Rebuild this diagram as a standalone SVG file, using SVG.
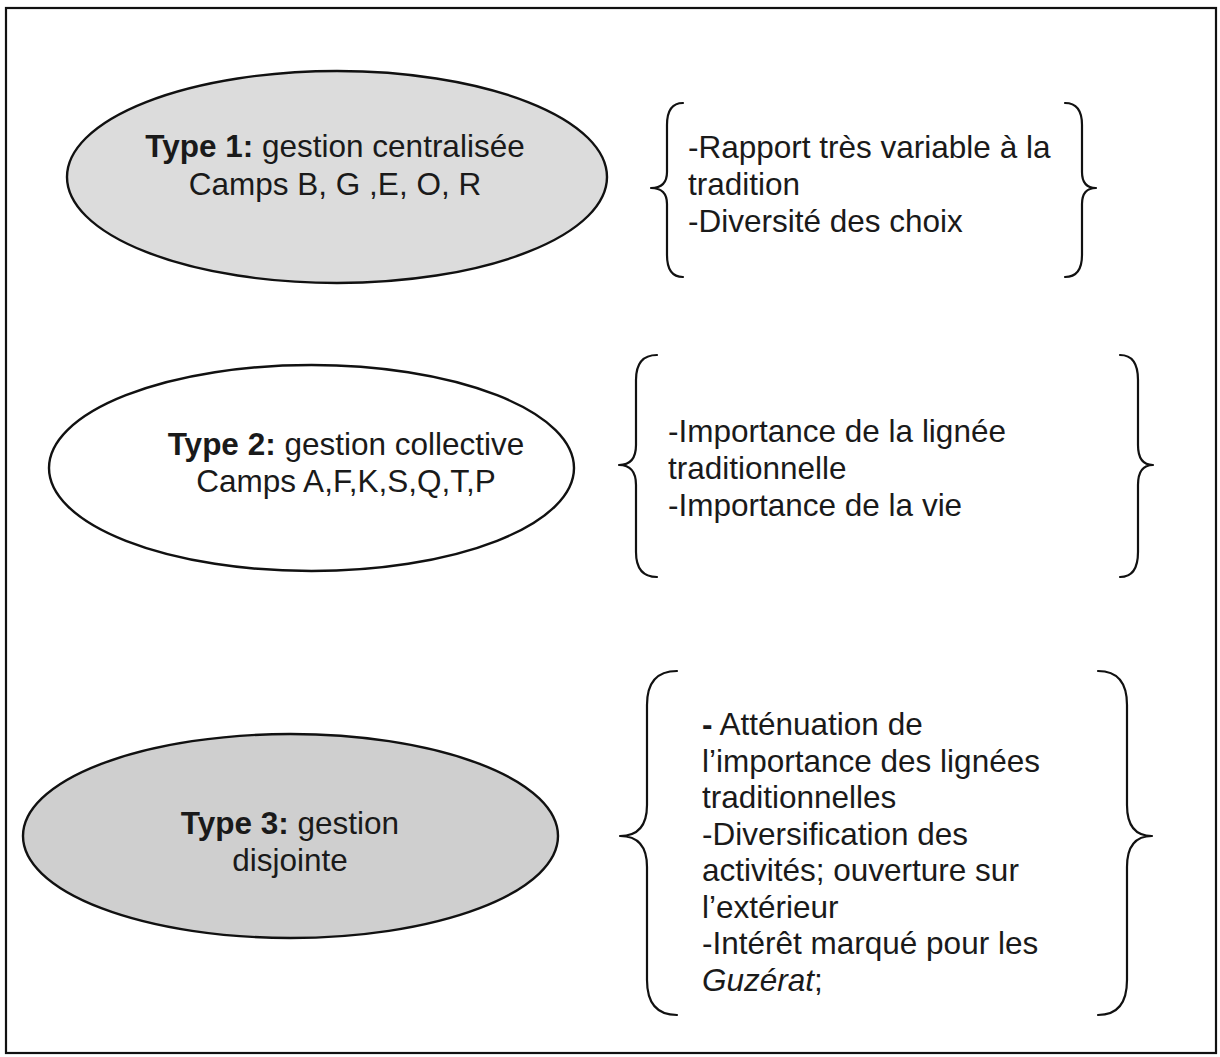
<svg xmlns="http://www.w3.org/2000/svg" width="1220" height="1057" viewBox="0 0 1220 1057">
<style>
.frame{fill:none;stroke:#111;stroke-width:2.2}
.ell{stroke:#111;stroke-width:2.4}
.brace{fill:none;stroke:#111;stroke-width:2.2;stroke-linecap:round;stroke-linejoin:round}
text{font-family:"Liberation Sans",Arial,sans-serif;font-size:31.5px;fill:#1a1a1a}
.c{text-anchor:middle}
.b{font-weight:bold}
.i{font-style:italic}
</style>
<rect width="1220" height="1057" fill="#ffffff"/>
<rect class="frame" x="6" y="8" width="1210" height="1045"/>
<g id="type1">
<ellipse class="ell" cx="337" cy="177" rx="270" ry="106" fill="#dcdcdc"/>
<text class="c" x="335" y="157"><tspan class="b">Type 1:</tspan> gestion centralisée</text>
<text class="c" x="335" y="195">Camps B, G ,E, O, R</text>
</g>
<g id="type2">
<ellipse class="ell" cx="311.5" cy="468" rx="262.5" ry="103" fill="#ffffff"/>
<text class="c" x="346" y="455"><tspan class="b">Type 2:</tspan> gestion collective</text>
<text class="c" x="346" y="492">Camps A,F,K,S,Q,T,P</text>
</g>
<g id="type3">
<ellipse class="ell" cx="290.5" cy="836" rx="267.5" ry="102" fill="#cfcfcf"/>
<text class="c" x="290" y="834"><tspan class="b">Type 3:</tspan> gestion</text>
<text class="c" x="290" y="871">disjointe</text>
</g>
<g id="desc1">
<path class="brace" d="M683,103 Q667,103 667,125 L667,172 Q667,188 651,188 Q667,188 667,204 L667,255 Q667,277 683,277"/>
<path class="brace" d="M1065,103 Q1082,103 1082,125 L1082,172 Q1082,188 1096,188 Q1082,188 1082,204 L1082,255 Q1082,277 1065,277"/>
<text x="688" y="158">-Rapport très variable à la</text>
<text x="688" y="195">tradition</text>
<text x="688" y="232">-Diversité des choix</text>
</g>
<g id="desc2">
<path class="brace" d="M657,355 Q636,355 636,380 L636,445 Q636,465 619,465 Q636,465 636,485 L636,552 Q636,577 657,577"/>
<path class="brace" d="M1120,355 Q1138,355 1138,380 L1138,445 Q1138,465 1153,465 Q1138,465 1138,485 L1138,552 Q1138,577 1120,577"/>
<text x="668" y="442">-Importance de la lignée</text>
<text x="668" y="479">traditionnelle</text>
<text x="668" y="516">-Importance de la vie</text>
</g>
<g id="desc3">
<path class="brace" d="M677,671 Q647,671 647,705 L647,805 Q647,836 620,836 Q647,836 647,867 L647,980 Q647,1015 677,1015"/>
<path class="brace" d="M1098,671 Q1127,671 1127,705 L1127,805 Q1127,836 1152,836 Q1127,836 1127,867 L1127,980 Q1127,1015 1098,1015"/>
<text x="702" y="735"><tspan class="b">-</tspan> Atténuation de</text>
<text x="702" y="771.5">l’importance des lignées</text>
<text x="702" y="808">traditionnelles</text>
<text x="702" y="844.5">-Diversification des</text>
<text x="702" y="881">activités; ouverture sur</text>
<text x="702" y="917.5">l’extérieur</text>
<text x="702" y="954">-Intérêt marqué pour les</text>
<text x="702" y="990.5"><tspan class="i">Guzérat</tspan>;</text>
</g>
<g id="connectors"></g>
</svg>
